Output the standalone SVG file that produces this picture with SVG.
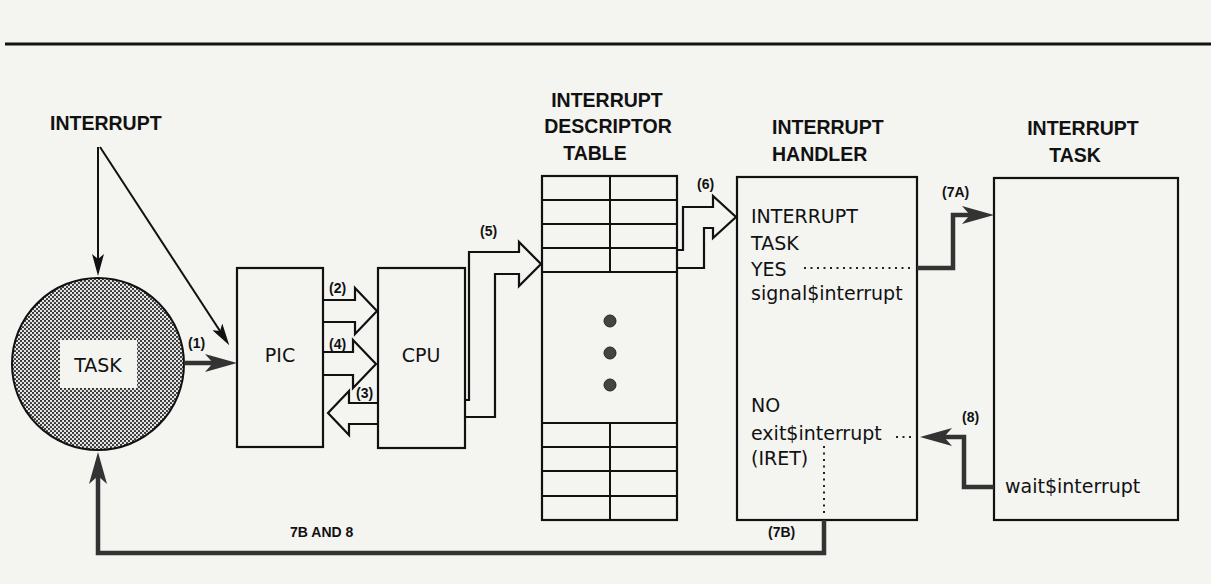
<svg xmlns="http://www.w3.org/2000/svg" width="1211" height="584" viewBox="0 0 1211 584">
<style>
.bg{fill:#f4f4f1}
.box{fill:none;stroke:#111;stroke-width:2.2}
.hd{font-family:"Liberation Sans",Arial,sans-serif;font-weight:bold;font-size:19.5px;fill:#111}
.tx{font-family:"DejaVu Sans","Liberation Sans",sans-serif;font-size:19px;fill:#111}
.lb{font-family:"Liberation Sans",Arial,sans-serif;font-weight:bold;font-size:14px;fill:#111}
.thin{fill:none;stroke:#111;stroke-width:2}
.hollow{fill:none;stroke:#111;stroke-width:2.2;stroke-linejoin:miter}
.thick{fill:none;stroke:#333;stroke-width:4.5;stroke-linejoin:miter}
.dot{fill:none;stroke:#222;stroke-width:2;stroke-dasharray:2 4.5}
.grid{stroke:#111;stroke-width:2}
</style>
<defs>
<pattern id="halftone" patternUnits="userSpaceOnUse" width="4" height="4">
<rect width="4" height="4" fill="#e6e6e6"/>
<circle cx="1" cy="1" r="1.1" fill="#2a2a2a"/>
<circle cx="3" cy="3" r="1.1" fill="#2a2a2a"/>
</pattern>
<marker id="thinHead" markerUnits="userSpaceOnUse" markerWidth="22" markerHeight="12" refX="5" refY="6" orient="auto">
<path d="M0,0 L22,6 L0,12 L5,6 z" fill="#111"/>
</marker>
<marker id="thickHead" markerUnits="userSpaceOnUse" markerWidth="32" markerHeight="18" refX="8" refY="9" orient="auto">
<path d="M0,0 L32,9 L0,18 L8,9 z" fill="#333"/>
</marker>
</defs>
<rect class="bg" x="0" y="0" width="1211" height="584"/>
<line x1="5" y1="44" x2="1211" y2="44" stroke="#111" stroke-width="3"/>

<g id="interrupt-label">
<text class="hd" x="50" y="130">INTERRUPT</text>
</g>

<g id="task">
<circle cx="98" cy="364" r="86" fill="url(#halftone)" stroke="#111" stroke-width="2"/>
<rect x="60" y="340" width="77" height="48" fill="#f4f4f1"/>
<text class="tx" x="98" y="372" text-anchor="middle">TASK</text>
</g>

<g id="pic">
<rect class="box" x="237" y="268" width="86" height="179"/>
<text class="tx" x="280" y="362" text-anchor="middle" font-size="18">PIC</text>
</g>

<g id="cpu">
<rect class="box" x="378" y="268" width="87" height="180"/>
<text class="tx" x="421" y="362" text-anchor="middle">CPU</text>
</g>

<g id="idt">
<text class="hd" x="607" y="107" text-anchor="middle">INTERRUPT</text>
<text class="hd" x="608" y="133" text-anchor="middle">DESCRIPTOR</text>
<text class="hd" x="595" y="160" text-anchor="middle">TABLE</text>
<rect class="box" x="542" y="176" width="135" height="344"/>
<line class="grid" x1="610" y1="176" x2="610" y2="272"/>
<line class="grid" x1="610" y1="423" x2="610" y2="520"/>
<line class="grid" x1="542" y1="200" x2="677" y2="200"/>
<line class="grid" x1="542" y1="224" x2="677" y2="224"/>
<line class="grid" x1="542" y1="248" x2="677" y2="248"/>
<line class="grid" x1="542" y1="272" x2="677" y2="272"/>
<line class="grid" x1="542" y1="423" x2="677" y2="423"/>
<line class="grid" x1="542" y1="447" x2="677" y2="447"/>
<line class="grid" x1="542" y1="471" x2="677" y2="471"/>
<line class="grid" x1="542" y1="496" x2="677" y2="496"/>
<circle cx="610" cy="321" r="6" fill="#444" stroke="#222" stroke-width="1"/>
<circle cx="610" cy="353" r="6" fill="#444" stroke="#222" stroke-width="1"/>
<circle cx="610" cy="385" r="6" fill="#444" stroke="#222" stroke-width="1"/>
</g>

<g id="handler">
<text class="hd" x="772" y="134">INTERRUPT</text>
<text class="hd" x="772" y="161">HANDLER</text>
<rect class="box" x="737" y="177" width="180" height="343"/>
<text class="tx" x="751" y="223">INTERRUPT</text>
<text class="tx" x="751" y="250">TASK</text>
<text class="tx" x="751" y="276">YES</text>
<text class="tx" x="751" y="300">signal$interrupt</text>
<text class="tx" x="751" y="412">NO</text>
<text class="tx" x="751" y="440">exit$interrupt</text>
<text class="tx" x="751" y="465">(IRET)</text>
<line class="dot" x1="804" y1="268" x2="914" y2="268"/>
<line class="dot" x1="896" y1="437" x2="915" y2="437"/>
<line class="dot" x1="824" y1="446" x2="824" y2="514"/>
</g>

<g id="interrupt-task">
<text class="hd" x="1083" y="135" text-anchor="middle">INTERRUPT</text>
<text class="hd" x="1075" y="162" text-anchor="middle">TASK</text>
<rect class="box" x="994" y="178" width="184" height="342"/>
<text class="tx" x="1005" y="493">wait$interrupt</text>
</g>

<g id="connectors">
<line class="thin" x1="98" y1="147" x2="98" y2="259" marker-end="url(#thinHead)"/>
<line class="thin" x1="100" y1="147" x2="220" y2="331" marker-end="url(#thinHead)"/>
<path class="thick" d="M184,363 H213" marker-end="url(#thickHead)"/>
<path class="hollow" d="M323,300 H355 V288 L377,311 L355,334 V322 H323"/>
<path class="hollow" d="M323,352 H353 V340 L376,364 L353,388 V375 H323"/>
<path class="hollow" d="M378,403 H349 V391 L328,413 L349,435 V424 H378"/>
<path class="hollow" d="M465,400 H469 V252 H519 V242 L541,264 L519,286 V274 H495 V417 H465"/>
<path class="hollow" d="M677,250 H683 V207 H713 V196 L736,217 L713,238 V228 H704 V268 H677"/>
<path class="thick" d="M917,268 H953 V215 H970" marker-end="url(#thickHead)"/>
<path class="thick" d="M994,487 H964 V437 H944" marker-end="url(#thickHead)"/>
<path class="thick" d="M824,520 V553 H98 V476" marker-end="url(#thickHead)"/>
<text class="lb" x="188" y="348">(1)</text>
<text class="lb" x="329" y="293">(2)</text>
<text class="lb" x="329" y="349">(4)</text>
<text class="lb" x="356" y="398">(3)</text>
<text class="lb" x="480" y="236">(5)</text>
<text class="lb" x="697" y="189">(6)</text>
<text class="lb" x="942" y="197">(7A)</text>
<text class="lb" x="962" y="422">(8)</text>
<text class="lb" x="768" y="537">(7B)</text>
<text class="lb" x="290" y="537">7B AND 8</text>
</g>
</svg>
